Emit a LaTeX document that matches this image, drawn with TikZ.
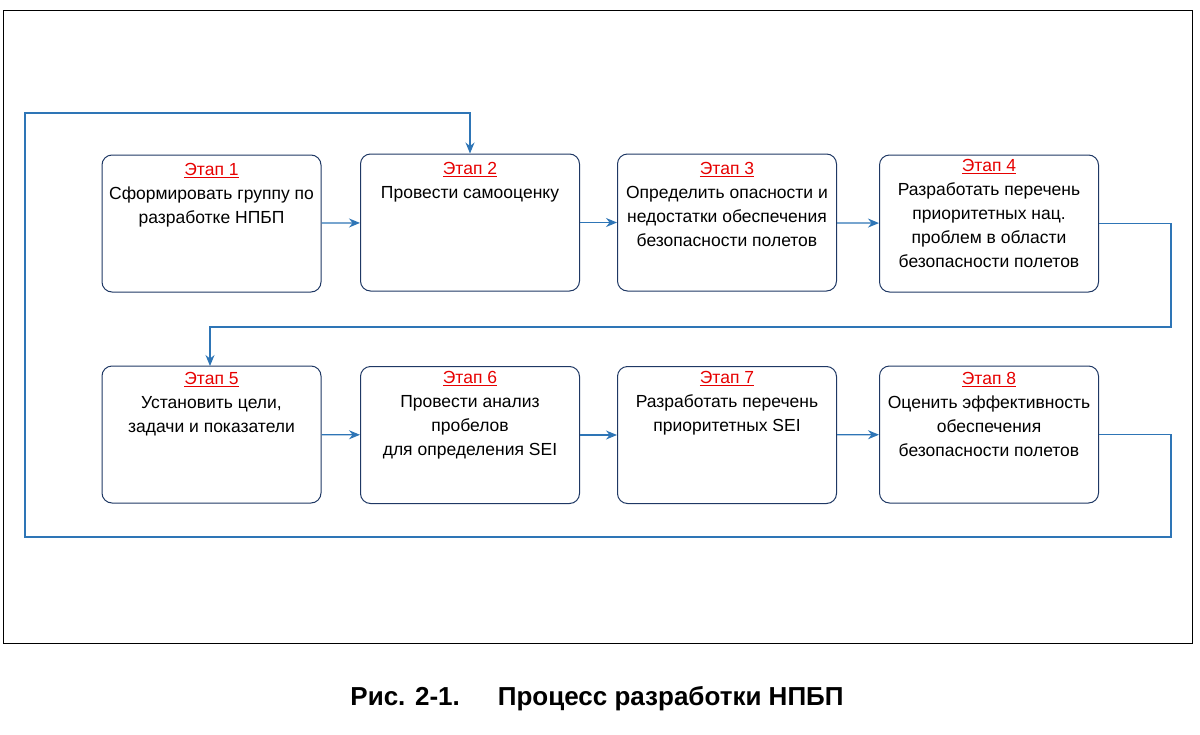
\documentclass[tikz,border=0pt]{standalone}
\usepackage{fontspec}
\setmainfont{Liberation Sans}
\usetikzlibrary{positioning,arrows.meta}
\definecolor{flowblue}{RGB}{46,117,182}
\definecolor{boxnavy}{RGB}{31,56,100}
\definecolor{stagered}{RGB}{230,0,0}
\tikzset{
  stagebox/.style={draw=boxnavy,line width=1pt,rounded corners=10pt,minimum width=219pt,minimum height=137pt},
  stagetext/.style={align=center,font=\fontsize{17.5}{24}\selectfont,inner sep=0pt},
  flow/.style={draw=flowblue,line width=1.2pt,-{Stealth[length=11pt,width=9pt]}},
}
\newcommand{\stagehead}[1]{\textcolor{stagered}{\underline{#1}}}
\begin{document}
\begin{tikzpicture}[x=1pt,y=-1pt]
\useasboundingbox (0,0) rectangle (1200,734);
\draw[line width=0.8pt] (3,10) rectangle (1192,643);
% stage boxes
\node[stagebox] (b1) at (211.5,223.5) {};
\node[stagebox] (b2) at (470,222.5) {};
\node[stagebox] (b3) at (727,222.5) {};
\node[stagebox] (b4) at (989,223.5) {};
\node[stagebox] (b5) at (211.5,434.5) {};
\node[stagebox] (b6) at (470,435) {};
\node[stagebox] (b7) at (727,435) {};
\node[stagebox] (b8) at (989,434.5) {};
% texts
\node[stagetext,below=9pt of b1.north] (t1) {\stagehead{Этап 1}\\Сформировать группу по\\разработке НПБП};
\node[stagetext,below=9pt of b2.north] (t2) {\stagehead{Этап 2}\\Провести самооценку};
\node[stagetext,below=9pt of b3.north] (t3) {\stagehead{Этап 3}\\Определить опасности и\\недостатки обеспечения\\безопасности полетов};
\node[stagetext,below=5pt of b4.north] (t4) {\stagehead{Этап 4}\\Разработать перечень\\приоритетных нац.\\проблем в области\\безопасности полетов};
\node[stagetext,below=7pt of b5.north] (t5) {\stagehead{Этап 5}\\Установить цели,\\задачи и показатели};
\node[stagetext,below=5pt of b6.north] (t6) {\stagehead{Этап 6}\\Провести анализ\\пробелов\\для определения SEI};
\node[stagetext,below=5pt of b7.north] (t7) {\stagehead{Этап 7}\\Разработать перечень\\приоритетных SEI};
\node[stagetext,below=7pt of b8.north] (t8) {\stagehead{Этап 8}\\Оценить эффективность\\обеспечения\\безопасности полетов};
% connectors
\draw[flow] (b1) -- (b2);
\draw[flow] (b2) -- (b3);
\draw[flow] (b3) -- (b4);
\draw[flow] (b5) -- (b6);
\draw[flow] (b6) -- (b7);
\draw[flow] (b7) -- (b8);
\draw[flow] (b4.east) -- ++(72,0) |- (210,327) -- (210,366);
\draw[flow] (b8.east) -- ++(72,0) |- (25,537) |- (470,113) -- (b2.north);
% caption
\node[font=\bfseries\fontsize{26}{30}\selectfont] (cap) at (597,699) {Рис. 2-1.\hspace{38pt}Процесс разработки НПБП};
\end{tikzpicture}
\end{document}
